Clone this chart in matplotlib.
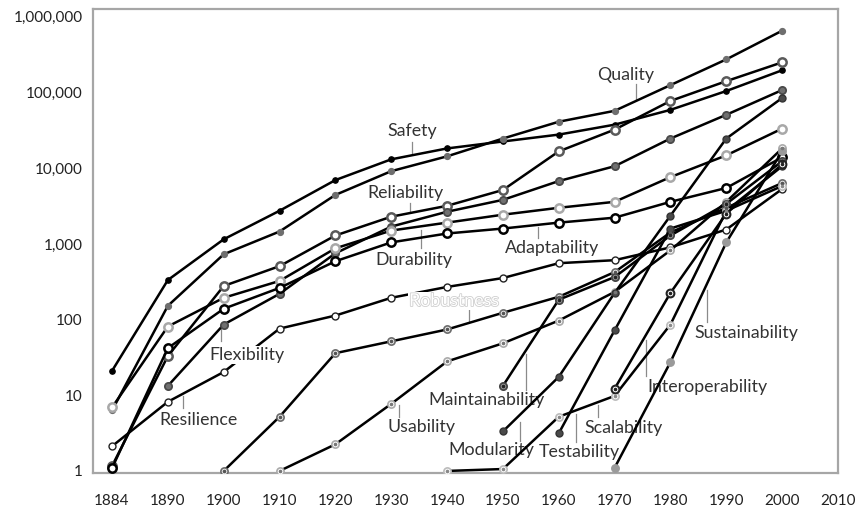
import matplotlib
matplotlib.use('Agg')
import matplotlib.pyplot as plt
import matplotlib.patheffects as pe
import numpy as np

plt.rcParams['font.family'] = ['Lato', 'DejaVu Sans']

# tick categories (evenly spaced, 1884 is its own slot)
years = ['1884', '1890', '1900', '1910', '1920', '1930', '1940',
         '1950', '1960', '1970', '1980', '1990', '2000', '2010']

N = None
# values per category 1884 .. 2000 (log scale)
safety = [21, 333, 1150, 2740, 6970, 13100, 18250, 22550, 27800, 37600, 59000, 104700, 196800]
quality = [6.3, 152, 729, 1457, 4436, 9140, 14350, 24660, 41120, 57300, 125300, 274000, 656000]
reliability = [1.16, 33, 278, 508, 1291, 2287, 3186, 5155, 16680, 32350, 77400, 141300, 250500]
flexibility = [N, 13.3, 86, 219, 751, 1694, 2660, 3818, 6760, 10620, 24660, 50800, 107800]
durability = [6.9, 81, 194, 324, 873, 1501, 1910, 2431, 3000, 3595, 7630, 14790, 33340]
adaptability = [1.09, 42, 139, 262, 590, 1047, 1372, 1595, 1910, 2220, 3595, 5480, 13930]
resilience = [2.12, 8.2, 20.3, 76, 113, 194, 270, 354, 556, 609, 900, 1548, 5310]
robustness = [N, N, 1.0, 5.2, 36, 51.6, 74, 123, 200, 424, 1413, 3000, 6370]
usability = [N, N, N, 1.0, 2.25, 7.7, 28, 48.6, 97, 232, 822, 3595, 18250]
maintainability = [N, N, N, N, N, N, N, 13.3, 183, 365, 1291, 3383, 12350]
modularity = [N, N, N, N, N, N, N, 3.33, 17.5, 225, 2360, 24660, 84700]
testability = [N, N, N, N, N, N, N, N, 3.14, 72, 1595, 2740, 10620]
scalability = [N, N, N, N, N, N, 1.0, 1.06, 5.2, 9.8, 86, 2740, 5820]
interoperability = [N, N, N, N, N, N, N, N, N, 12.2, 225, 2505, 11280]
sustainability = [N, N, N, N, N, N, N, N, N, 1.1, 27.4, 1047, 16680]

# (series, marker face, marker edge, size, edge width, centre dot colour)
series = [
    (safety, 'black', 'black', 3.8, 1.0, None),
    (quality, '#6e6e6e', '#6e6e6e', 4.2, 1.0, None),
    (reliability, 'white', '#5a5a5a', 6.0, 1.8, None),
    (flexibility, '#707070', '#4a4a4a', 5.2, 1.3, None),
    (durability, 'white', '#a8a8a8', 6.0, 1.8, None),
    (adaptability, 'white', 'black', 6.0, 1.8, None),
    (resilience, 'white', '#222222', 5.0, 1.0, None),
    (robustness, '#eeeeee', '#6a6a6a', 5.2, 1.2, '#555555'),
    (usability, 'white', '#aaaaaa', 5.2, 1.2, '#777777'),
    (maintainability, '#999999', '#444444', 5.2, 1.3, '#222222'),
    (modularity, '#4a4a4a', '#333333', 5.0, 1.0, None),
    (testability, '#4a4a4a', '#333333', 5.0, 1.0, None),
    (scalability, 'white', '#bbbbbb', 5.2, 1.2, '#888888'),
    (interoperability, 'white', '#222222', 5.6, 1.5, '#222222'),
    (sustainability, '#9a9a9a', '#9a9a9a', 5.4, 1.0, None),
]

# label text, text position (x slot, value), leader x slot, leader from / to values
labels = [
    ('Quality', 9.20, 170000, 9.39, 129500, 82000),
    ('Safety', 5.375, 31000, 5.375, 22200, 15900),
    ('Reliability', 5.25, 4700, 5.34, 3470, 2640),
    ('Durability', 5.41, 613, 5.54, 883, 1527),
    ('Adaptability', 7.875, 883, 7.625, 1197, 1672),
    ('Flexibility', 2.41, 34, 1.96, 52, 85),
    ('Resilience', 1.54, 4.7, 1.27, 6.8, 9.8),
    ('Usability', 5.54, 3.8, 5.14, 5.2, 7.4),
    ('Maintainability', 6.71, 8.7, 7.41, 11.7, 35),
    ('Modularity', 6.80, 1.9, 7.30, 2.5, 4.4),
    ('Testability', 8.36, 1.78, 8.30, 2.4, 5.7),
    ('Scalability', 9.16, 3.7, 8.71, 5.2, 7.4),
    ('Interoperability', 10.66, 12.9, 9.57, 18, 54),
    ('Sustainability', 11.36, 66.5, 10.66, 93, 246),
]

fig = plt.figure(figsize=(8.63, 5.13), dpi=100)
ax = fig.add_axes([0.1078, 0.078, 0.8632, 0.9045])

x = np.arange(len(years) - 1)
for vals, mfc, mec, ms, mew, dot in series:
    y = np.array([np.nan if v is None else v for v in vals], dtype=float)
    ax.plot(x, y, '-', color='black', lw=1.8, marker='o', ms=ms, mfc=mfc,
            mec=mec, mew=mew, zorder=3)
    if dot is not None:
        ax.plot(x, y, 'o', ms=1.6, color=dot, zorder=4)

for text, tx, ty, lx, l0, l1 in labels:
    bbox = None
    if text == 'Flexibility':
        bbox = dict(facecolor='white', edgecolor='none', pad=1)
    ax.text(tx, ty, text, fontsize=12.8, color='#333333', ha='center',
            va='center', bbox=bbox, zorder=2 if bbox is None else 3.5)
    ax.plot([lx, lx], [l0, l1], color='#8a8a8a', lw=0.9, zorder=1)

# the washed-out label in the middle
ax.text(6.125, 176, 'Robustness', fontsize=12.8, color='white', ha='center',
        va='center', zorder=5,
        bbox=dict(facecolor='white', edgecolor='none', pad=1),
        path_effects=[pe.withStroke(linewidth=1.2, foreground='#cfcfcf')])
ax.plot([6.39, 6.39], [134, 96], color='#8a8a8a', lw=0.9, zorder=1)

ax.set_yscale('log')
ax.set_ylim(0.94, 1.27e6)
ax.set_xlim(-0.34, 12.96)
ax.set_xticks(np.arange(len(years)))
ax.set_xticklabels(years)
yt = [1, 10, 100, 1000, 10000, 100000, 1000000]
ax.set_yticks(yt)
ax.set_yticklabels(['{:,}'.format(v) for v in yt])
ax.minorticks_off()
ax.tick_params(length=0, labelsize=11, colors='#222222')
ax.tick_params(axis='x', pad=15)
ax.tick_params(axis='y', pad=7.5)
for s in ax.spines.values():
    s.set_color('#a6a6a6')
    s.set_linewidth(1.6)

fig.savefig('out.png', dpi=100)
